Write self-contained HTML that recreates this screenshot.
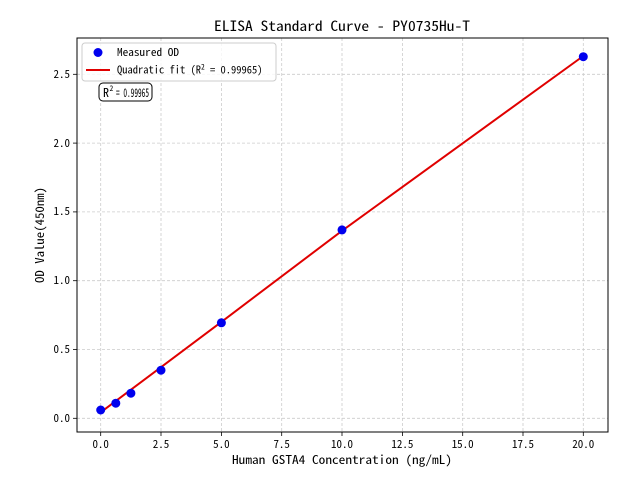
<!DOCTYPE html>
<html><head><style>
body{margin:0;background:#fff}
text{font-family:"WenQuanYi Zen Hei Mono","Noto Sans Mono CJK SC","DejaVu Sans Mono",monospace;fill:#000}
</style></head><body>
<svg width="640" height="480" viewBox="0 0 640 480" xmlns="http://www.w3.org/2000/svg">
<rect width="640" height="480" fill="#fff"/>
<g stroke="#ccc" stroke-dasharray="3,2" stroke-width="0.8">
<line x1="100.7" y1="38" x2="100.7" y2="432"/>
<line x1="161" y1="38" x2="161" y2="432"/>
<line x1="221.4" y1="38" x2="221.4" y2="432"/>
<line x1="281.7" y1="38" x2="281.7" y2="432"/>
<line x1="342" y1="38" x2="342" y2="432"/>
<line x1="402.4" y1="38" x2="402.4" y2="432"/>
<line x1="462.7" y1="38" x2="462.7" y2="432"/>
<line x1="523" y1="38" x2="523" y2="432"/>
<line x1="583.3" y1="38" x2="583.3" y2="432"/>
<line x1="77" y1="418.3" x2="608" y2="418.3"/>
<line x1="77" y1="349.5" x2="608" y2="349.5"/>
<line x1="77" y1="280.7" x2="608" y2="280.7"/>
<line x1="77" y1="211.9" x2="608" y2="211.9"/>
<line x1="77" y1="143.1" x2="608" y2="143.1"/>
<line x1="77" y1="74.3" x2="608" y2="74.3"/>
</g>
<polyline fill="none" stroke="#e00000" stroke-width="2" points="100.7,412.3 161,367.2 221.4,321.9 342,230.8 462.7,143.3 583.3,56"/>
<g fill="#0000ee">
<circle cx="100.7" cy="410" r="4.5"/>
<circle cx="115.8" cy="403.2" r="4.5"/>
<circle cx="130.9" cy="393.2" r="4.5"/>
<circle cx="161" cy="370.2" r="4.5"/>
<circle cx="221.4" cy="322.8" r="4.5"/>
<circle cx="342" cy="229.9" r="4.5"/>
<circle cx="583.3" cy="56.7" r="4.5"/>
</g>
<rect x="77" y="38" width="531" height="394" fill="none" stroke="#000" stroke-width="1"/>
<g stroke="#000" stroke-width="0.8">
<line x1="100.7" y1="432" x2="100.7" y2="436"/><line x1="161" y1="432" x2="161" y2="436"/><line x1="221.4" y1="432" x2="221.4" y2="436"/><line x1="281.7" y1="432" x2="281.7" y2="436"/><line x1="342" y1="432" x2="342" y2="436"/><line x1="402.4" y1="432" x2="402.4" y2="436"/><line x1="462.7" y1="432" x2="462.7" y2="436"/><line x1="523" y1="432" x2="523" y2="436"/><line x1="583.3" y1="432" x2="583.3" y2="436"/>
<line x1="73" y1="418.3" x2="77" y2="418.3"/><line x1="73" y1="349.5" x2="77" y2="349.5"/><line x1="73" y1="280.7" x2="77" y2="280.7"/><line x1="73" y1="211.9" x2="77" y2="211.9"/><line x1="73" y1="143.1" x2="77" y2="143.1"/><line x1="73" y1="74.3" x2="77" y2="74.3"/>
</g>
<g font-size="11" text-anchor="middle">
<text x="100.7" y="448">0.0</text><text x="161" y="448">2.5</text><text x="221.4" y="448">5.0</text><text x="281.7" y="448">7.5</text><text x="342" y="448">10.0</text><text x="402.4" y="448">12.5</text><text x="462.7" y="448">15.0</text><text x="523" y="448">17.5</text><text x="583.3" y="448">20.0</text>
</g>
<g font-size="11" text-anchor="end">
<text x="70" y="422">0.0</text><text x="70" y="353">0.5</text><text x="70" y="284">1.0</text><text x="70" y="215">1.5</text><text x="70" y="147">2.0</text><text x="70" y="78">2.5</text>
</g>
<text x="232" y="464" font-size="12" textLength="220" lengthAdjust="spacingAndGlyphs">Human GSTA4 Concentration (ng/mL)</text>
<text x="0" y="0" font-size="12" text-anchor="middle" transform="translate(44,235) rotate(-90)" textLength="96" lengthAdjust="spacingAndGlyphs">OD Value(450nm)</text>
<text x="214" y="31" font-size="14" textLength="256" lengthAdjust="spacingAndGlyphs">ELISA Standard Curve - PY0735Hu-T</text>
<rect x="82" y="43" width="194" height="38" rx="3" fill="#fff" fill-opacity="0.8" stroke="#ccc"/>
<circle cx="98" cy="52.5" r="4.5" fill="#0000ee"/>
<text x="117" y="56" font-size="10.5" textLength="62" lengthAdjust="spacingAndGlyphs">Measured OD</text>
<line x1="86" y1="70" x2="110" y2="70" stroke="#e00000" stroke-width="2"/>
<text x="117" y="73.5" font-size="10.5">Quadratic fit (R<tspan font-size="7.5" dy="-4">2</tspan><tspan dy="4"> = 0.99965)</tspan></text>
<rect x="99" y="83" width="53" height="18" rx="4" fill="#fff" stroke="#000" stroke-width="1"/>
<text x="103" y="97" font-size="12">R</text>
<text x="109.5" y="91" font-size="7.5">2</text>
<text x="116" y="97" font-size="12" textLength="33" lengthAdjust="spacingAndGlyphs">= 0.99965</text>
</svg>
</body></html>
